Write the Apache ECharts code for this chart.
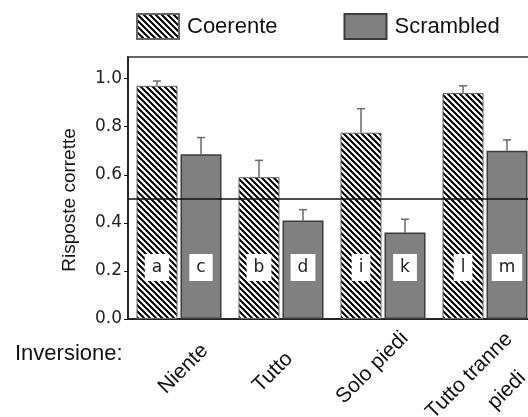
<!DOCTYPE html>
<html>
<head>
<meta charset="utf-8">
<script src="https://cdn.jsdelivr.net/npm/echarts@6/dist/echarts.min.js"></script>
<style>
  html, body { margin: 0; padding: 0; background: #fff; }
  #main { width: 528px; height: 417px; }
</style>
</head>
<body>
<div id="main"></div>
<script>
// categorie (inversione)
const categories = ['Niente', 'Tutto', 'Solo piedi', 'Tutto tranne\npiedi'];
// risposte corrette medie + errore (solo verso l'alto)
const coerente = [0.97, 0.59, 0.775, 0.94];
const coerenteErr = [0.02, 0.07, 0.10, 0.03];
const scrambled = [0.685, 0.41, 0.36, 0.70];
const scrambledErr = [0.07, 0.045, 0.055, 0.045];
// lettere dentro le barre
const coerenteLetters = ['a', 'b', 'i', 'l'];
const scrambledLetters = ['c', 'd', 'k', 'm'];
const yTicks = [0, 0.2, 0.4, 0.6, 0.8, 1.0];
const chance = 0.5;

const BAR_W = 41;
const BAR_GAP = 3;
const CAP = 4;
// spostamento a mano delle etichette ruotate (come nell'originale)
const labelPad = [[105, 16, 0, 0], [92, 34, 0, 0], [82, 10, 0, 0], [123, 9, 0, 0]];

// tratteggio diagonale per "Coerente"
function hatch() {
  const c = document.createElement('canvas');
  c.width = 6; c.height = 6;
  const ctx = c.getContext('2d');
  ctx.fillStyle = '#fff';
  ctx.fillRect(0, 0, 6, 6);
  ctx.strokeStyle = '#000';
  ctx.lineWidth = 2;
  ctx.beginPath();
  for (let k = -1; k <= 1; k++) {
    ctx.moveTo(k * 6 - 1, -1);
    ctx.lineTo(k * 6 + 7, 7);
  }
  ctx.stroke();
  return c;
}

function errorRender(side) {
  return function (params, api) {
    const top = api.coord([api.value(0), api.value(1)]);
    const tip = api.coord([api.value(0), api.value(1) + api.value(2)]);
    const x = top[0] + side * (BAR_W + BAR_GAP) / 2;
    const st = { stroke: '#6a6a6a', lineWidth: 1.5 };
    return {
      type: 'group',
      children: [
        { type: 'line', shape: { x1: x, y1: top[1], x2: x, y2: tip[1] }, style: st },
        { type: 'line', shape: { x1: x - CAP, y1: tip[1], x2: x + CAP, y2: tip[1] }, style: st }
      ]
    };
  };
}

const letterLabel = (letters) => ({
  show: true,
  position: 'insideBottom',
  distance: 38,
  formatter: (p) => letters[p.dataIndex],
  backgroundColor: '#fff',
  padding: [5, 7],
  color: '#222',
  fontFamily: 'DejaVu Sans',
  fontSize: 17
});

const chart = echarts.init(document.getElementById('main'));
chart.setOption({
  animation: false,
  textStyle: { fontFamily: 'Liberation Sans' },
  legend: {
    data: ['Coerente', 'Scrambled'],
    left: 136,
    top: 13,
    padding: 0,
    itemWidth: 42,
    itemHeight: 25,
    itemGap: 66,
    icon: 'rect',
    textStyle: { fontSize: 22, color: '#111', padding: [0, 0, 0, 3] }
  },
  grid: {
    left: 128,
    right: -8,
    top: 57,
    bottom: 98,
    show: true,
    borderColor: '#333',
    borderWidth: 1.5,
    outerBoundsMode: 'none'
  },
  xAxis: {
    type: 'category',
    data: categories.map((c, i) => ({ value: c, textStyle: { padding: labelPad[i] } })),
    axisLine: { lineStyle: { color: '#111', width: 1.5 } },
    axisTick: { show: false },
    axisLabel: {
      interval: 0,
      rotate: 45,
      margin: -20,
      fontSize: 21,
      lineHeight: 37,
      color: '#111',
      formatter: (v) => v.split('\n').map((s, i) => (i ? '{sub|' + s + '}' : s)).join('\n'),
      rich: { sub: { fontSize: 21, lineHeight: 37, color: '#111', padding: [0, 18, 0, 0] } }
    }
  },
  yAxis: {
    type: 'value',
    min: 0,
    max: 1.09,
    interval: 0.2,
    name: 'Risposte corrette',
    nameLocation: 'middle',
    nameRotate: 90,
    nameGap: 49,
    nameTextStyle: {
      fontSize: 19,
      color: '#111',
      padding: [0, 24, 0, 0]
    },
    splitLine: { show: false },
    axisLine: { show: true, lineStyle: { color: '#111', width: 1.5 } },
    axisTick: { show: true, length: 4, customValues: yTicks, lineStyle: { color: '#111' } },
    axisLabel: {
      customValues: yTicks,
      margin: 6,
      fontFamily: 'DejaVu Sans',
      fontSize: 17,
      color: '#222',
      formatter: (v) => v.toFixed(1)
    }
  },
  graphic: [
    {
      type: 'text',
      left: 15,
      top: 343,
      style: { text: 'Inversione:', fontFamily: 'Liberation Sans', fontSize: 22, fill: '#111' }
    }
  ],
  series: [
    {
      name: 'Coerente',
      type: 'bar',
      data: coerente,
      barWidth: BAR_W,
      barGap: (BAR_GAP / BAR_W * 100) + '%',
      itemStyle: {
        color: { image: hatch(), repeat: 'repeat' },
        borderColor: '#666',
        borderWidth: 1
      },
      label: letterLabel(coerenteLetters),
      markLine: {
        silent: true,
        symbol: 'none',
        label: { show: false },
        lineStyle: { color: '#111', width: 1.5, type: 'solid' },
        data: [{ yAxis: chance }]
      }
    },
    {
      name: 'Scrambled',
      type: 'bar',
      data: scrambled,
      barWidth: BAR_W,
      itemStyle: { color: '#808080', borderColor: '#3c3c3c', borderWidth: 1.5 },
      label: letterLabel(scrambledLetters)
    },
    {
      name: 'errC',
      type: 'custom',
      renderItem: errorRender(-1),
      data: coerente.map((v, i) => [i, v, coerenteErr[i]]),
      z: 3
    },
    {
      name: 'errS',
      type: 'custom',
      renderItem: errorRender(1),
      data: scrambled.map((v, i) => [i, v, scrambledErr[i]]),
      z: 3
    }
  ]
});
</script>
</body>
</html>
